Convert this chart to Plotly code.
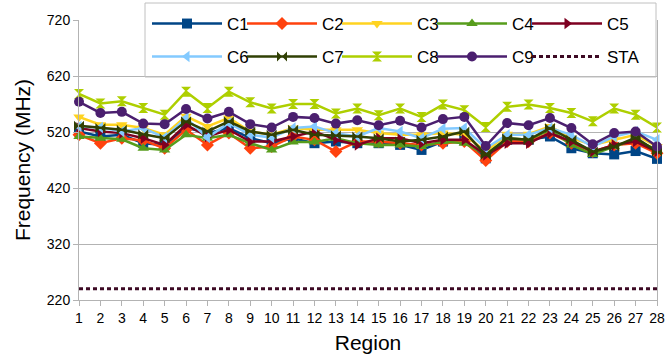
import plotly.graph_objects as go

regions = list(range(1, 29))

C1 = [521, 512, 515, 500, 497, 528, 518, 527, 509, 500, 509, 500, 503, 500, 500, 497, 488, 503, 506, 473, 506, 506, 512, 491, 482, 480, 486, 472]
C2 = [515, 500, 509, 505, 491, 524, 497, 518, 491, 494, 512, 506, 485, 503, 503, 500, 497, 500, 503, 469, 503, 503, 518, 500, 485, 497, 500, 482]
C3 = [547, 533, 533, 527, 515, 548, 530, 545, 521, 515, 527, 524, 524, 524, 518, 515, 515, 518, 515, 485, 516, 516, 530, 509, 497, 506, 515, 494]
C4 = [512, 509, 507, 491, 488, 515, 509, 515, 500, 488, 502, 502, 509, 500, 497, 497, 494, 503, 500, 480, 509, 506, 524, 497, 480, 494, 506, 488]
C5 = [527, 521, 518, 509, 497, 533, 512, 524, 503, 503, 512, 521, 506, 497, 509, 509, 500, 506, 506, 479, 500, 500, 518, 503, 485, 497, 503, 485]
C6 = [530, 528, 521, 527, 510, 545, 510, 536, 515, 510, 527, 530, 518, 512, 527, 521, 509, 526, 527, 491, 515, 515, 527, 515, 494, 512, 521, 506]
C7 = [531, 527, 524, 516, 509, 539, 521, 539, 521, 515, 524, 515, 514, 512, 509, 503, 506, 512, 521, 479, 509, 506, 527, 506, 485, 494, 510, 485]
C8 = [588, 571, 575, 563, 551, 592, 563, 592, 573, 562, 570, 570, 553, 562, 550, 562, 547, 569, 559, 529, 565, 569, 563, 554, 539, 562, 551, 528]
C9 = [574, 554, 556, 535, 534, 561, 544, 556, 534, 528, 547, 545, 535, 541, 532, 540, 528, 543, 547, 495, 536, 532, 545, 527, 498, 518, 521, 494]
STA = [240] * 28

series = [
    ("C1", C1, "#004586", "square", "legend"),
    ("C2", C2, "#ff420e", "diamond", "legend"),
    ("C3", C3, "#ffd320", "triangle-down", "legend"),
    ("C4", C4, "#579d1c", "triangle-up", "legend"),
    ("C5", C5, "#7e0021", "triangle-right", "legend"),
    ("C6", C6, "#83caff", "triangle-left", "legend2"),
    ("C7", C7, "#314004", "bowtie", "legend2"),
    ("C8", C8, "#aecf00", "hourglass", "legend2"),
    ("C9", C9, "#4b1f6f", "circle", "legend2"),
]

fig = go.Figure()
for name, vals, color, sym, leg in series:
    fig.add_trace(go.Scatter(
        x=regions, y=vals, name=name, mode="lines+markers",
        line=dict(color=color, width=2.5),
        marker=dict(symbol=sym, size=10, color=color, line=dict(width=0)),
        legend=leg, cliponaxis=False,
    ))
fig.add_trace(go.Scatter(
    x=regions, y=STA, name="STA", mode="lines",
    line=dict(color="#3d0a24", width=3, dash="4px,3px"),
    legend="legend2",
))
# invisible spacer entries so the last legend labels are not clipped
for leg in ("legend", "legend2"):
    fig.add_trace(go.Scatter(
        x=[None], y=[None], name=" ", mode="lines",
        line=dict(color="rgba(0,0,0,0)", width=0.1),
        legend=leg, hoverinfo="skip",
    ))

PL, PR, PT, PB = 79, 657, 20, 300
W, H = 666, 360
def px(x):
    return (x - PL) / (PR - PL)
def py(y):
    return (PB - y) / (PB - PT)

legfont = dict(family="Liberation Sans", size=17, color="#000000")
fig.update_layout(
    width=W, height=H,
    margin=dict(l=PL, r=W - PR, t=PT, b=H - PB, autoexpand=False),
    paper_bgcolor="white", plot_bgcolor="white",
    font=dict(family="Liberation Sans", size=14, color="#000000"),
    legend=dict(orientation="h", x=px(147), y=py(24), xanchor="left", yanchor="middle",
                font=legfont, itemwidth=70, entrywidth=10, entrywidthmode="pixels",
                bgcolor="rgba(0,0,0,0)", borderwidth=0, itemclick=False),
    legend2=dict(orientation="h", x=px(147), y=py(57), xanchor="left", yanchor="middle",
                 font=legfont, itemwidth=70, entrywidth=10, entrywidthmode="pixels",
                 bgcolor="rgba(0,0,0,0)", borderwidth=0, itemclick=False),
    shapes=[dict(type="rect", xref="paper", yref="paper",
                 x0=px(145), x1=px(656), y0=py(77), y1=py(3),
                 line=dict(color="#c0c0c0", width=1), fillcolor="rgba(0,0,0,0)")],
)
fig.update_xaxes(
    range=[1, 28], dtick=1, tick0=1, showgrid=False,
    showline=True, linecolor="#b3b3b3", linewidth=1,
    ticks="outside", ticklen=5, tickcolor="#b3b3b3",
    tickfont=dict(size=14, color="#000000"),
    title=dict(text="Region", font=dict(size=21, color="#000000"), standoff=10),
    zeroline=False,
)
fig.update_yaxes(
    range=[220, 720], dtick=100, tick0=220, showgrid=True, gridcolor="#b3b3b3", gridwidth=1,
    showline=True, linecolor="#b3b3b3", linewidth=1, mirror=True,
    ticks="outside", ticklen=5, tickcolor="#b3b3b3",
    tickfont=dict(size=14, color="#000000"),
    title=dict(text="Frequency (MHz)", font=dict(size=21, color="#000000"), standoff=10),
    zeroline=False,
)

fig.write_html("out.html", config={"displayModeBar": False},
               post_script="document.body.style.margin='0px';")
